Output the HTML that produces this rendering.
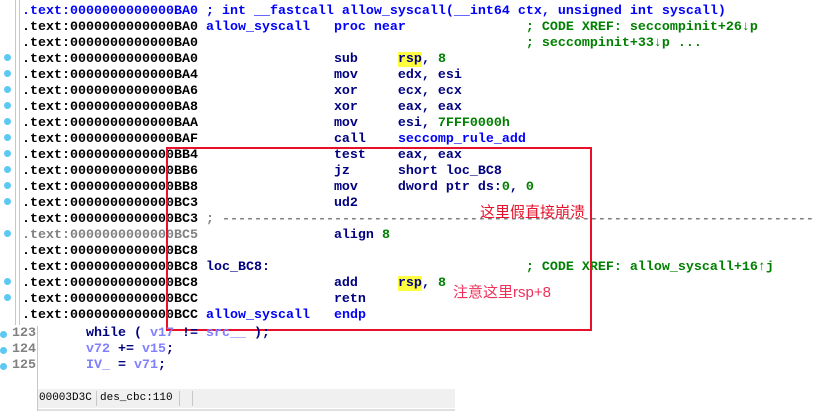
<!DOCTYPE html>
<html><head><meta charset="utf-8"><style>
body{margin:0;width:814px;height:411px;background:#fff;position:relative;overflow:hidden;font-family:"Liberation Mono",monospace;font-size:13.33px;font-weight:bold;}
.r{position:absolute;left:22px;height:16px;line-height:16px;white-space:pre;color:#000;}
.b{color:#0000ff}.n{color:#000080}.g{color:#008000}.gr{color:#808080}
.y{background:#ffff40}
.dot{position:absolute;left:4px;width:7px;height:7px;border-radius:4px;background:#5cc8f5}
</style></head><body>
<div style="position:absolute;left:15px;top:0;width:1px;height:325px;background:#c8c8c8"></div>
<div style="position:absolute;left:19px;top:0;width:1px;height:325px;background:#c8c8c8"></div>

<div class="r b" style="top:4px">.text:0000000000000BA0 ; int __fastcall allow_syscall(__int64 ctx, unsigned int syscall)</div>
<div class="r" style="top:20px">.text:0000000000000BA0 <span class="b">allow_syscall   proc near</span>               <span class="g">; CODE XREF: seccompinit+26↓p</span></div>
<div class="r" style="top:36px">.text:0000000000000BA0                                         <span class="g">; seccompinit+33↓p ...</span></div>
<div class="r" style="top:52px">.text:0000000000000BA0                 <span class="n">sub     <span class="y">rsp</span>, <span class="g">8</span></span></div>
<div class="r n" style="top:68px"><span style="color:#000">.text:0000000000000BA4</span>                 mov     edx, esi</div>
<div class="r n" style="top:84px"><span style="color:#000">.text:0000000000000BA6</span>                 xor     ecx, ecx</div>
<div class="r n" style="top:100px"><span style="color:#000">.text:0000000000000BA8</span>                 xor     eax, eax</div>
<div class="r n" style="top:116px"><span style="color:#000">.text:0000000000000BAA</span>                 mov     esi, <span class="g">7FFF0000h</span></div>
<div class="r n" style="top:132px"><span style="color:#000">.text:0000000000000BAF</span>                 call    <span class="b">seccomp_rule_add</span></div>
<div class="r n" style="top:148px"><span style="color:#000">.text:0000000000000BB4</span>                 test    eax, eax</div>
<div class="r n" style="top:164px"><span style="color:#000">.text:0000000000000BB6</span>                 jz      short loc_BC8</div>
<div class="r n" style="top:180px"><span style="color:#000">.text:0000000000000BB8</span>                 mov     dword ptr ds:<span class="g">0</span>, <span class="g">0</span></div>
<div class="r n" style="top:196px"><span style="color:#000">.text:0000000000000BC3</span>                 ud2</div>
<div class="r" style="top:212px">.text:0000000000000BC3 <span class="gr">; ---------------------------------------------------------------------------</span></div>
<div class="r n" style="top:228px"><span class="gr">.text:0000000000000BC5</span>                 align <span class="g">8</span></div>
<div class="r" style="top:244px">.text:0000000000000BC8</div>
<div class="r" style="top:260px">.text:0000000000000BC8 <span class="n">loc_BC8:</span>                                <span class="g">; CODE XREF: allow_syscall+16↑j</span></div>
<div class="r n" style="top:276px"><span style="color:#000">.text:0000000000000BC8</span>                 add     <span class="y">rsp</span>, <span class="g">8</span></div>
<div class="r n" style="top:292px"><span style="color:#000">.text:0000000000000BCC</span>                 retn</div>
<div class="r" style="top:308px">.text:0000000000000BCC <span class="b">allow_syscall</span>   <span class="b">endp</span></div>

<div class="dot" style="top:54px"></div><div class="dot" style="top:70px"></div><div class="dot" style="top:86px"></div><div class="dot" style="top:102px"></div><div class="dot" style="top:118px"></div><div class="dot" style="top:134px"></div><div class="dot" style="top:150px"></div><div class="dot" style="top:166px"></div><div class="dot" style="top:182px"></div><div class="dot" style="top:198px"></div><div class="dot" style="top:230px"></div><div class="dot" style="top:278px"></div><div class="dot" style="top:294px"></div>

<div style="position:absolute;left:166px;top:147px;width:422px;height:180px;border:2px solid #e8102a"></div>
<div style="position:absolute;left:480px;top:202px;color:#e8102a;font-family:'Noto Sans CJK SC',sans-serif;font-weight:normal;font-size:15px;line-height:19px">这里假直接崩溃</div>
<div style="position:absolute;left:453px;top:283px;color:#f0305a;font-family:'Liberation Sans','Noto Sans CJK SC',sans-serif;font-weight:normal;font-size:15px;line-height:19px">注意这里rsp+8</div>

<div style="position:absolute;left:37px;top:326px;width:1px;height:85px;background:#c8c8c8"></div>
<div class="dot" style="top:331px;left:0"></div><div class="dot" style="top:347px;left:0"></div><div class="dot" style="top:363px;left:0"></div>
<div class="r gr" style="top:326px;left:12px">123</div>
<div class="r gr" style="top:342px;left:12px">124</div>
<div class="r gr" style="top:358px;left:12px">125</div>
<div class="r n" style="top:326px;left:86px">while ( <span style="color:#8080ff">v17</span> != <span style="color:#8080ff">src__</span> );</div>
<div class="r" style="top:342px;left:86px;color:#8080ff">v72 <span class="n">+=</span> v15<span class="n">;</span></div>
<div class="r" style="top:358px;left:86px;color:#8080ff">IV_ <span class="n">=</span> v71<span class="n">;</span></div>

<div style="position:absolute;left:38px;top:389px;width:417px;height:19px;background:#f0f0f0"></div>
<div style="position:absolute;left:38px;top:409px;width:417px;height:2px;background:#e0e0e0"></div>
<div style="position:absolute;left:96px;top:391px;width:1px;height:15px;background:#c8c8c8"></div>
<div style="position:absolute;left:179px;top:391px;width:1px;height:15px;background:#c8c8c8"></div>
<div style="position:absolute;left:192px;top:391px;width:1px;height:15px;background:#c8c8c8"></div>
<div style="position:absolute;left:39px;top:390px;font-family:'Liberation Mono',monospace;font-weight:normal;font-size:11px;line-height:17px;color:#000">00003D3C</div>
<div style="position:absolute;left:100px;top:390px;font-family:'Liberation Mono',monospace;font-weight:normal;font-size:11px;line-height:17px;color:#000">des_cbc:110</div>
</body></html>
